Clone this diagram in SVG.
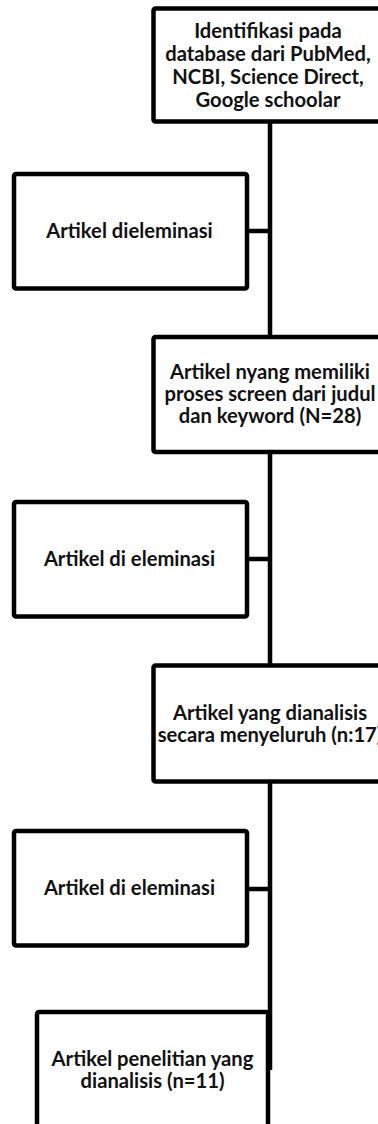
<svg xmlns="http://www.w3.org/2000/svg" width="378" height="1124" viewBox="0 0 378 1124">
<style>
.box{fill:#fff;stroke:#000;stroke-width:4.5;stroke-linejoin:round}
.ln{stroke:#000;stroke-width:4.5;fill:none}
.t{font-family:Lato,"Liberation Sans",sans-serif;font-weight:bold;font-size:20.2px;fill:#111;text-anchor:middle}
</style>
<rect width="378" height="1124" fill="#fff"/>
<g id="connectors">
<line class="ln" x1="270" y1="121" x2="270" y2="337"/>
<line class="ln" x1="270" y1="452" x2="270" y2="666"/>
<line class="ln" x1="270" y1="781" x2="270" y2="1070"/>
<line class="ln" x1="247" y1="231" x2="270" y2="231"/>
<line class="ln" x1="247" y1="559" x2="270" y2="559"/>
<line class="ln" x1="247" y1="889" x2="270" y2="889"/>
</g>
<g id="n1">
<rect class="box" x="153.5" y="8.5" width="233" height="113" rx="2"/>
<text class="t" x="268" y="38">Identifikasi pada</text>
<text class="t" x="268" y="61">database dari PubMed,</text>
<text class="t" x="268" y="84">NCBI, Science Direct,</text>
<text class="t" x="268" y="107">Google schoolar</text>
</g>
<g id="n2">
<rect class="box" x="14" y="174" width="233" height="114.5" rx="2"/>
<text class="t" x="129.5" y="238">Artikel dieleminasi</text>
</g>
<g id="n3">
<rect class="box" x="153.5" y="337" width="233" height="115" rx="2"/>
<text class="t" x="270" y="378.5">Artikel nyang memiliki</text>
<text class="t" x="270" y="400.5">proses screen dari judul</text>
<text class="t" x="270" y="422.5">dan keyword (N=28)</text>
</g>
<g id="n4">
<rect class="box" x="14" y="502" width="233" height="114.5" rx="2"/>
<text class="t" x="129.5" y="566">Artikel di eleminasi</text>
</g>
<g id="n5">
<rect class="box" x="153.5" y="665.5" width="233" height="116" rx="2"/>
<text class="t" x="270" y="719.5">Artikel yang dianalisis</text>
<text class="t" x="270" y="741.5">secara menyeluruh (n:17)</text>
</g>
<g id="n6">
<rect class="box" x="14" y="831" width="233" height="114.5" rx="2"/>
<text class="t" x="129.5" y="895">Artikel di eleminasi</text>
</g>
<g id="n7">
<rect class="box" x="37" y="1012" width="231" height="115" rx="2"/>
<text class="t" x="152.5" y="1065.5">Artikel penelitian yang</text>
<text class="t" x="152.5" y="1087.5">dianalisis (n=11)</text>
</g>
</svg>
